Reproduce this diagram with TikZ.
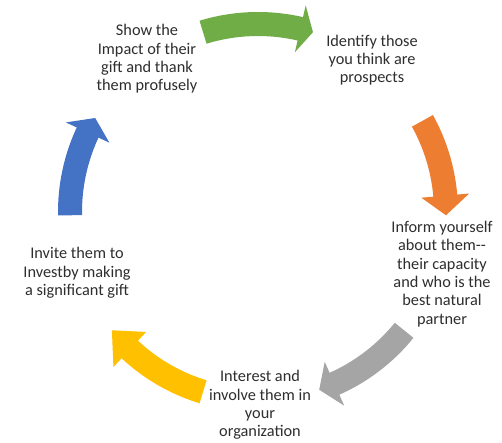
\documentclass[tikz,border=0pt]{standalone}
\usepackage{fontspec}
\setmainfont{Carlito}
\definecolor{cgreen}{HTML}{70AD47}
\definecolor{corange}{HTML}{ED7D31}
\definecolor{cgray}{HTML}{A5A5A5}
\definecolor{cyellow}{HTML}{FFC000}
\definecolor{cblue}{HTML}{4472C4}
\definecolor{ctext}{HTML}{2E2E2E}
\tikzset{
  lbl/.style={align=center, text=ctext, font=\fontsize{16.3}{18.3}\selectfont, inner sep=0pt},
}
% curved block arrow: #1 colour, #2 tail angle, #3 head base angle, #4 tip angle
\newcommand{\cyclearrow}[4]{%
  \fill[#1] (#2:200) arc[start angle=#2, end angle=#3, radius=200]
    -- (#3:212) -- (#4:188) -- (#3:164) -- (#3:176)
    arc[start angle=#3, end angle=#2, radius=176] -- cycle;}
\begin{document}
\begin{tikzpicture}[x=1pt,y=1pt]
\useasboundingbox[fill=white] (0,0) rectangle (502,442);
\coordinate (C) at (258,230);
\begin{scope}[shift={(C)}]
  \cyclearrow{cgreen}{107}{77}{73}
  \cyclearrow{corange}{29}{5}{-1}
  \cyclearrow{cgray}{-39}{-66}{-71}
  \cyclearrow{cyellow}{-107}{-133}{-141}
  \cyclearrow{cblue}{181}{155}{150}
\end{scope}
\node[lbl] (show) at (147,383) {Show the\\Impact of their\\gift and thank\\them profusely};
\node[lbl] (ident) at (372,382) {Identify those\\you think are\\prospects};
\node[lbl] (inform) at (442,168) {Inform yourself\\about them-{}-\\their capacity\\and who is the\\best natural\\partner};
\node[lbl] (interest) at (260,37) {Interest and\\involve them in\\your\\organization};
\node[lbl] (invite) at (77,169) {Invite them to\\Investby making\\a significant gift};
\end{tikzpicture}
\end{document}
